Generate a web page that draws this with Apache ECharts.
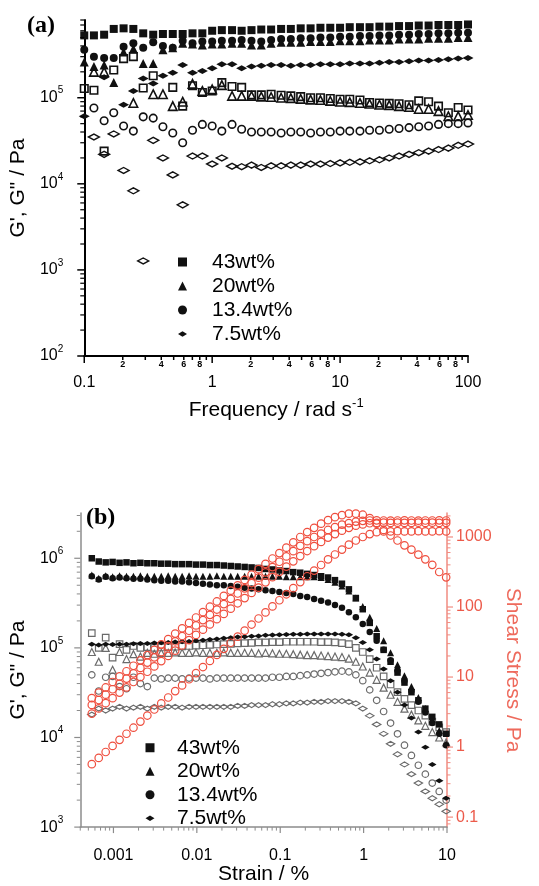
<!DOCTYPE html>
<html><head><meta charset="utf-8">
<script src="https://cdn.jsdelivr.net/npm/echarts@6/dist/echarts.min.js"></script>
<style>html,body{margin:0;padding:0;background:#fff}#c{width:539px;height:886px}</style>
</head><body><div id="c"></div>
<script>
// ---------- Panel (a): frequency sweep ----------
const freqA = [0.1,0.119,0.143,0.170,0.203,0.242,0.289,0.346,0.412,0.492,0.588,0.702,0.838,1.0,1.19,1.43,1.70,2.03,2.42,2.89,3.46,4.12,4.92,5.88,7.02,8.38,10,11.9,14.3,17.0,20.3,24.2,28.9,34.6,41.2,49.2,58.8,70.2,83.8,100];
const a43G = [5.3e5,5.3e5,5.4e5,6.3e5,6.4e5,6.3e5,5.6e5,5.4e5,5.5e5,5.5e5,5.5e5,5.6e5,5.6e5,6.0e5,6.1e5,6.1e5,6.0e5,6.1e5,6.2e5,6.2e5,6.3e5,6.3e5,6.4e5,6.4e5,6.5e5,6.5e5,6.5e5,6.6e5,6.6e5,6.6e5,6.7e5,6.7e5,6.8e5,6.8e5,6.9e5,6.9e5,7.0e5,7.0e5,7.0e5,7.1e5];
const a20G = [2.6e5,2.3e5,2.4e5,1.5e5,3.4e5,3.7e5,2.5e5,2.5e5,3.6e5,3.8e5,4.3e5,4.2e5,4.1e5,4.2e5,4.2e5,4.3e5,4.3e5,4.1e5,4.1e5,4.3e5,4.4e5,4.4e5,4.4e5,4.5e5,4.5e5,4.5e5,4.6e5,4.6e5,4.6e5,4.7e5,4.7e5,4.7e5,4.8e5,4.8e5,4.8e5,4.9e5,4.9e5,4.9e5,5.0e5,5.0e5];
const a13G = [3.6e5,3.0e5,2.9e5,2.9e5,3.9e5,4.3e5,3.8e5,4.4e5,4.0e5,3.8e5,4.6e5,4.3e5,4.5e5,4.5e5,4.6e5,4.6e5,4.7e5,4.6e5,4.5e5,4.7e5,4.8e5,4.8e5,4.9e5,4.9e5,5.0e5,5.0e5,5.1e5,5.1e5,5.2e5,5.2e5,5.3e5,5.3e5,5.4e5,5.4e5,5.5e5,5.5e5,5.6e5,5.6e5,5.7e5,5.7e5];
const a7G  = [6.1e4,null,1.73e5,null,8.3e4,1.2e5,1.67e5,1.46e5,1.8e5,1.95e5,2.4e5,1.95e5,2.05e5,2.2e5,2.45e5,2.45e5,2.2e5,2.3e5,2.35e5,2.4e5,2.4e5,2.35e5,2.4e5,2.4e5,2.45e5,2.45e5,2.45e5,2.5e5,2.5e5,2.5e5,2.55e5,2.6e5,2.6e5,2.65e5,2.7e5,2.7e5,2.75e5,2.8e5,2.85e5,2.9e5];
const a43V = [1.28e5,1.22e5,2.4e4,2.1e5,2.85e5,3.0e5,1.3e5,1.8e5,null,1.32e5,8e4,1.38e5,1.15e5,1.2e5,1.5e5,1.35e5,1.32e5,1.08e5,1.08e5,1.1e5,1.07e5,1.05e5,1.03e5,1.0e5,1.0e5,9.8e4,9.6e4,9.6e4,9.4e4,8.8e4,8.7e4,8.6e4,8.5e4,8.3e4,9.2e4,9.0e4,8.0e4,6.7e4,7.7e4,7.2e4];
const a20V = [null,2.0e5,2.0e5,null,null,8.7e4,null,1.1e5,1.1e5,8e4,9e4,1.45e5,1.2e5,1.25e5,1.4e5,1.05e5,1.05e5,1.05e5,1.03e5,1.02e5,1.0e5,9.9e4,9.7e4,9.5e4,9.4e4,9.2e4,9.0e4,8.9e4,8.7e4,8.5e4,8.3e4,8.2e4,8.0e4,7.8e4,7.4e4,7.4e4,7.0e4,6.1e4,6.1e4,6.3e4];
const a13V = [null,7.6e4,5.4e4,6.7e4,4.7e4,4.1e4,6.0e4,5.8e4,4.6e4,3.9e4,3.0e4,4.2e4,4.9e4,4.7e4,4.1e4,4.9e4,4.3e4,4.0e4,4.0e4,4.0e4,3.9e4,4.0e4,4.0e4,3.9e4,4.0e4,4.0e4,4.1e4,4.1e4,4.1e4,4.2e4,4.2e4,4.3e4,4.4e4,4.5e4,4.6e4,4.7e4,4.9e4,5.0e4,5.0e4,5.1e4];
const a7V  = [null,3.5e4,2.2e4,3.8e4,1.43e4,8.3e3,1.27e3,3.2e4,2.0e4,1.27e4,5.7e3,2.1e4,2.1e4,1.7e4,2.0e4,1.6e4,1.58e4,1.65e4,1.55e4,1.62e4,1.62e4,1.65e4,1.65e4,1.7e4,1.7e4,1.72e4,1.75e4,1.78e4,1.8e4,1.85e4,1.9e4,2.0e4,2.1e4,2.2e4,2.3e4,2.4e4,2.5e4,2.6e4,2.8e4,2.9e4];

// ---------- Panel (b): strain sweep ----------
const strainB = [0.00055,0.000666,0.000807,0.000977,0.001184,0.001434,0.001738,0.002105,0.00255,0.00309,0.003744,0.004535,0.0055,0.00666,0.00807,0.00977,0.01184,0.01434,0.01738,0.02105,0.0255,0.0309,0.03744,0.04535,0.055,0.0666,0.0807,0.0977,0.1184,0.1434,0.1738,0.2105,0.255,0.309,0.3744,0.4535,0.55,0.666,0.807,0.977,1.184,1.434,1.738,2.105,2.55,3.09,3.744,4.535,5.5,6.66,8.07,9.77];
const bG43 = [1.0e6,9.2e5,9.0e5,9.1e5,8.9e5,9.0e5,8.8e5,8.9e5,8.8e5,8.8e5,8.7e5,8.7e5,8.6e5,8.6e5,8.6e5,8.5e5,8.5e5,8.4e5,8.4e5,8.3e5,8.2e5,8.1e5,8.0e5,7.9e5,7.8e5,7.6e5,7.5e5,7.3e5,7.2e5,7.0e5,6.9e5,6.7e5,6.5e5,6.3e5,6.1e5,5.7e5,5.2e5,4.5e5,3.6e5,2.7e5,1.9e5,1.35e5,9.5e4,7.0e4,5.3e4,4.1e4,3.2e4,2.6e4,2.1e4,1.7e4,1.4e4,1.1e4];
const bG20 = [6.5e5,6.0e5,6.4e5,6.2e5,6.4e5,6.3e5,6.3e5,6.4e5,6.3e5,6.3e5,6.3e5,6.4e5,6.3e5,6.3e5,6.4e5,6.3e5,6.3e5,6.3e5,6.4e5,6.3e5,6.3e5,6.3e5,6.3e5,6.3e5,6.3e5,6.3e5,6.3e5,6.3e5,6.2e5,6.2e5,6.2e5,6.2e5,6.2e5,6.1e5,5.8e5,5.4e5,4.9e5,4.3e5,3.6e5,2.9e5,2.2e5,1.65e5,1.2e5,8.8e4,6.5e4,4.9e4,3.7e4,2.8e4,2.1e4,1.6e4,1.2e4,8.5e3];
const bG13 = [6.3e5,5.8e5,6.2e5,6.0e5,6.1e5,6.0e5,5.9e5,5.9e5,5.8e5,5.7e5,5.6e5,5.6e5,5.5e5,5.5e5,5.4e5,5.3e5,5.2e5,5.1e5,5.0e5,5.0e5,4.9e5,4.8e5,4.7e5,4.6e5,4.5e5,4.4e5,4.3e5,4.2e5,4.1e5,4.0e5,3.8e5,3.7e5,3.5e5,3.35e5,3.2e5,3.0e5,2.8e5,2.5e5,2.2e5,1.85e5,1.5e5,1.2e5,9.5e4,7.3e4,5.6e4,4.3e4,3.3e4,2.5e4,1.9e4,1.45e4,1.1e4,8.2e3];
const bG7  = [1.1e5,1.08e5,1.1e5,1.09e5,1.1e5,1.1e5,1.11e5,1.12e5,1.12e5,1.13e5,1.14e5,1.15e5,1.16e5,1.17e5,1.18e5,1.2e5,1.22e5,1.24e5,1.26e5,1.28e5,1.3e5,1.32e5,1.33e5,1.35e5,1.36e5,1.38e5,1.39e5,1.4e5,1.41e5,1.42e5,1.42e5,1.43e5,1.43e5,1.43e5,1.43e5,1.43e5,1.42e5,1.4e5,1.3e5,1.15e5,9.5e4,7.5e4,5.8e4,4.3e4,3.2e4,2.3e4,1.65e4,1.15e4,7.8e3,5.0e3,3.3e3,2.1e3];
const bV43 = [1.46e5,1.0e5,1.3e5,7.8e4,1.1e5,9.5e4,1.05e5,1.0e5,1.02e5,1.0e5,1.01e5,1.02e5,1.03e5,1.04e5,1.05e5,1.06e5,1.07e5,1.08e5,1.09e5,1.1e5,1.11e5,1.12e5,1.13e5,1.14e5,1.15e5,1.15e5,1.16e5,1.16e5,1.17e5,1.17e5,1.17e5,1.17e5,1.17e5,1.16e5,1.16e5,1.15e5,1.13e5,1.1e5,1.0e5,9.0e4,7.5e4,6.0e4,4.8e4,3.9e4,3.2e4,2.7e4,2.3e4,2.0e4,1.75e4,1.5e4,1.3e4,1.15e4];
const bV20 = [9.0e4,7.0e4,1.0e5,5.7e4,9.0e4,7.5e4,8.5e4,8.0e4,8.8e4,8.6e4,8.8e4,8.8e4,8.9e4,8.8e4,8.8e4,8.9e4,8.8e4,8.8e4,8.8e4,8.9e4,8.8e4,8.8e4,8.8e4,8.8e4,8.7e4,8.8e4,8.7e4,8.6e4,8.6e4,8.5e4,8.4e4,8.3e4,8.3e4,8.2e4,8.1e4,8.0e4,7.9e4,7.6e4,7.0e4,6.2e4,5.3e4,4.4e4,3.6e4,3.0e4,2.5e4,2.1e4,1.8e4,1.55e4,1.35e4,1.15e4,1.0e4,8.8e3];
const bV13 = [5.0e4,3.3e4,4.7e4,4.8e4,3.7e4,3.5e4,4.7e4,4.0e4,3.7e4,4.6e4,4.5e4,4.6e4,4.6e4,4.5e4,4.6e4,4.6e4,4.6e4,4.5e4,4.6e4,4.6e4,4.6e4,4.6e4,4.6e4,4.6e4,4.6e4,4.6e4,4.7e4,4.7e4,4.8e4,4.8e4,4.9e4,5.0e4,5.1e4,5.2e4,5.3e4,5.4e4,5.5e4,5.4e4,5.0e4,4.3e4,3.4e4,2.6e4,1.95e4,1.45e4,1.1e4,8.2e3,6.3e3,4.9e3,3.9e3,3.1e3,2.5e3,2.0e3];
const bV7  = [1.8e4,2.1e4,2.0e4,2.1e4,2.2e4,2.1e4,2.15e4,2.2e4,2.1e4,2.2e4,2.15e4,2.2e4,2.2e4,2.15e4,2.2e4,2.2e4,2.2e4,2.2e4,2.2e4,2.2e4,2.2e4,2.25e4,2.25e4,2.3e4,2.3e4,2.3e4,2.35e4,2.35e4,2.4e4,2.4e4,2.45e4,2.45e4,2.5e4,2.5e4,2.55e4,2.55e4,2.55e4,2.5e4,2.4e4,2.1e4,1.75e4,1.4e4,1.1e4,8.5e3,6.5e3,5.0e3,3.9e3,3.1e3,2.5e3,2.1e3,1.8e3,1.5e3];
const stressB1 = [5.0,6.0,7.1,8.5,10.2,12.1,14.5,17.3,20.6,24.5,29.3,34.9,41.7,49.7,59.3,70.8,84.5,101,120,144,171,204,244,290,347,414,493,589,703,838,1000,1175,1350,1550,1740,1920,2050,2150,2150,2080,1860,1550,1260,1050,890,760,660,560,480,400,316,265];
const stressB2 = [4.0,4.7,5.6,6.7,8.0,9.5,11.3,13.5,16.1,19.1,22.8,27.2,32.4,38.5,45.8,54.6,65.0,77.4,92,110,131,156,185,220,262,313,372,443,527,628,748,870,1000,1120,1260,1380,1500,1580,1660,1700,1720,1730,1720,1710,1720,1730,1720,1710,1720,1720,1730,1720];
const stressB3 = [3.0,3.56,4.24,5.0,6.0,7.1,8.5,10.0,11.9,14.2,16.9,20.0,23.8,28.3,33.7,40.0,47.5,56.5,67.1,79.8,94.8,113,134,159,189,225,267,318,378,449,533,630,740,850,980,1100,1230,1350,1450,1510,1570,1590,1600,1590,1600,1590,1590,1600,1590,1600,1590,1590];
const stressB4 = [0.57,0.70,0.85,1.04,1.27,1.55,1.89,2.31,2.82,3.44,4.2,5.1,6.3,7.6,9.3,11.4,13.9,17.0,20.7,25.3,30.9,37.7,46.0,56.2,68.6,83.7,102,125,152,186,227,275,331,398,479,562,661,776,891,1000,1100,1170,1200,1200,1210,1200,1200,1210,1200,1200,1210,1200];

// ---------- Labels / ticks ----------
const legendNames = ['43wt%','20wt%','13.4wt%','7.5wt%'];
const ticksA_x = [0.1,1,10,100];
const ticksA_y = [100,1000,10000,100000];
const ticksB_x = [0.001,0.01,0.1,1,10];
const ticksB_y = [1000,10000,100000,1000000];
const ticksB_r = [0.1,1,10,100,1000];
const minorLabelMantissas = [2,4,6,8];

const FF = "'Liberation Sans', Arial, sans-serif";
const DIA = 'path://M0,5L8,0L16,5L8,10Z';
const BLACK = '#111', GRAY = '#6a6a6a', RED = '#ef4e3e';
const AX_B = '#8c8c8c', RED_AX = '#f08b80', RED_TXT = '#ec5a4a';

function minorTicks(e0, e1, lo, hi) {
  const out = [];
  for (let e = e0; e <= e1; e++) for (let m = 2; m <= 9; m++) {
    const v = +(m * Math.pow(10, e)).toPrecision(3);
    if (v >= lo * 0.999 && v <= hi * 1.001) out.push(v);
  }
  return out;
}
function isPow(v){ const l = Math.log10(v); return Math.abs(l - Math.round(l)) < 1e-6; }
function fmtPow(v){ if (!isPow(v)) return ''; return '{b|10}{s|' + Math.round(Math.log10(v)) + '}'; }
function fmtNum(v){ if (!isPow(v)) return ''; const e = Math.round(Math.log10(v)); return e < 0 ? Math.pow(10, e).toFixed(-e) : String(Math.pow(10, e)); }
const powRich = { b:{fontSize:16, lineHeight:24, fontFamily:FF, color:'#000'}, s:{fontSize:10, lineHeight:10, verticalAlign:'top', fontFamily:FF, color:'#000'} };

function pairs(xs, ys){ return xs.map((x,i)=>[x, ys[i]]).filter(d => d[1] != null); }
function sc(name, xs, ys, symbol, size, filled, color, bw, xi, yi, z) {
  return { type:'scatter', name, xAxisIndex:xi, yAxisIndex:yi, symbol, symbolSize:size, z:z||2, silent:true, clip:false,
    itemStyle: filled ? {color:color, borderWidth:0, opacity:1} : {color:'rgba(255,255,255,0)', borderColor:color, borderWidth:bw, opacity:1},
    data: pairs(xs, ys) };
}
function tickSeries(xi, yi, data, dir, len, color, lw, withLabel) {
  return { type:'custom', xAxisIndex:xi, yAxisIndex:yi, silent:true, z:20, clip:false, data,
    renderItem(params, api) {
      const v = [api.value(0), api.value(1)];
      const p = api.coord(v);
      const ch = [{type:'line', shape:{x1:p[0], y1:p[1], x2:p[0]+dir[0]*len, y2:p[1]+dir[1]*len}, style:{stroke:color, lineWidth:lw}}];
      if (withLabel) {
        const val = dir[1] ? v[0] : v[1];
        const m = Math.round(val / Math.pow(10, Math.floor(Math.log10(val) + 1e-9)));
        if (minorLabelMantissas.indexOf(m) >= 0) {
          ch.push({type:'text', x:p[0], y:p[1]+len+0.5, style:{text:String(m), align:'center', verticalAlign:'top', textAlign:'center', textVerticalAlign:'top', font:'bold 9px ' + FF, fill:'#000'}});
        }
      }
      return {type:'group', children:ch};
    } };
}

const Y_MIN_A = 100, X_MIN_A = 0.1, Y_MIN_B = 1000, X_MIN_B = 0.0004, X_MAX_B = 10;

const series = [
  // panel a: G'' open
  sc("43wt% G''", freqA, a43V, 'rect', 7.5, false, BLACK, 1.6, 0, 0),
  sc("20wt% G''", freqA, a20V, 'triangle', 8.5, false, BLACK, 1.6, 0, 0),
  sc("13.4wt% G''", freqA, a13V, 'circle', 7.5, false, BLACK, 1.6, 0, 0),
  sc("7.5wt% G''", freqA, a7V, DIA, [11,6], false, BLACK, 1.5, 0, 0),
  // panel a: G' filled
  sc('7.5wt%', freqA, a7G, DIA, [11,6], true, BLACK, 0, 0, 0, 3),
  sc('13.4wt%', freqA, a13G, 'circle', 8, true, BLACK, 0, 0, 0, 3),
  sc('20wt%', freqA, a20G, 'triangle', 9, true, BLACK, 0, 0, 0, 3),
  sc('43wt%', freqA, a43G, 'rect', 8, true, BLACK, 0, 0, 0, 3),
  // panel b: G'' open (gray)
  sc("43wt% G'' b", strainB, bV43, 'rect', 6.5, false, GRAY, 1.2, 1, 1),
  sc("20wt% G'' b", strainB, bV20, 'triangle', 7, false, GRAY, 1.2, 1, 1),
  sc("13.4wt% G'' b", strainB, bV13, 'circle', 6.5, false, GRAY, 1.2, 1, 1),
  sc("7.5wt% G'' b", strainB, bV7, DIA, [8.5,5], false, GRAY, 1.2, 1, 1),
  // panel b: G' filled
  sc('7.5wt%', strainB, bG7, DIA, [8.5,5], true, BLACK, 0, 1, 1, 3),
  sc('13.4wt%', strainB, bG13, 'circle', 6.5, true, BLACK, 0, 1, 1, 3),
  sc('20wt%', strainB, bG20, 'triangle', 7, true, BLACK, 0, 1, 1, 3),
  sc('43wt%', strainB, bG43, 'rect', 6.5, true, BLACK, 0, 1, 1, 3),
  // panel b: shear stress (right axis)
  sc('stress 1', strainB, stressB1, 'circle', 7.5, false, RED, 1.2, 1, 2, 4),
  sc('stress 2', strainB, stressB2, 'circle', 7.5, false, RED, 1.2, 1, 2, 4),
  sc('stress 3', strainB, stressB3, 'circle', 7.5, false, RED, 1.2, 1, 2, 4),
  sc('stress 4', strainB, stressB4, 'circle', 7.5, false, RED, 1.2, 1, 2, 4),
  // ticks
  tickSeries(0, 0, ticksA_x.map(v=>[v, Y_MIN_A]), [0,1], 7, '#000', 1.5, false),
  tickSeries(0, 0, minorTicks(-1, 1, 0.1, 100).map(v=>[v, Y_MIN_A]), [0,1], 4, '#000', 1.5, true),
  tickSeries(0, 0, ticksA_y.map(v=>[X_MIN_A, v]), [-1,0], 7, '#000', 1.5, false),
  tickSeries(0, 0, minorTicks(2, 5, 100, 8e5).map(v=>[X_MIN_A, v]), [-1,0], 4, '#000', 1.2, false),
  tickSeries(1, 1, ticksB_x.map(v=>[v, Y_MIN_B]), [0,1], 6, AX_B, 1.2, false),
  tickSeries(1, 1, minorTicks(-4, 0, 0.0004, 10).map(v=>[v, Y_MIN_B]), [0,1], 3.5, AX_B, 1, false),
  tickSeries(1, 1, ticksB_y.map(v=>[X_MIN_B, v]), [-1,0], 6, AX_B, 1.2, false),
  tickSeries(1, 1, minorTicks(3, 6, 1000, 3.2e6).map(v=>[X_MIN_B, v]), [-1,0], 3.5, AX_B, 1, false),
  tickSeries(1, 2, ticksB_r.map(v=>[X_MAX_B, v]), [1,0], 6, RED_AX, 1.2, false),
  tickSeries(1, 2, minorTicks(-2, 3, 0.072, 2200).map(v=>[X_MAX_B, v]), [1,0], 3.5, RED_AX, 1, false)
];

const option = {
  animation: false,
  backgroundColor: '#fff',
  textStyle: { fontFamily: FF },
  grid: [
    { left: 83, top: 20, width: 385, height: 336 },
    { left: 73, top: 513, width: 374, height: 319 }
  ],
  xAxis: [
    { type:'log', gridIndex:0, min:0.1, max:100,
      axisLine:{lineStyle:{color:'#000', width:2}}, axisTick:{show:false}, splitLine:{show:false},
      axisLabel:{margin:19, fontSize:16, color:'#000', fontFamily:FF, formatter:fmtNum},
      name:'Frequency / rad s{s|-1}', nameLocation:'middle', nameGap:41,
      nameTextStyle:{fontSize:21, color:'#000', fontFamily:FF, lineHeight:26, rich:{s:{fontSize:13, lineHeight:13, verticalAlign:'top', fontFamily:FF, color:'#000'}}} },
    { type:'log', gridIndex:1, min:0.0004, max:10,
      axisLine:{lineStyle:{color:AX_B, width:1.5}}, axisTick:{show:false}, splitLine:{show:false},
      axisLabel:{margin:20, fontSize:16, color:'#000', fontFamily:FF, formatter:fmtNum},
      name:'Strain / %', nameLocation:'middle', nameGap:35,
      nameTextStyle:{fontSize:21, color:'#000', fontFamily:FF} }
  ],
  yAxis: [
    { type:'log', gridIndex:0, min:100, max:8e5,
      axisLine:{lineStyle:{color:'#000', width:2}}, axisTick:{show:false}, splitLine:{show:false},
      axisLabel:{margin:21, formatter:fmtPow, rich:powRich},
      name:'G\', G" / Pa', nameLocation:'middle', nameGap:50,
      nameTextStyle:{fontSize:21, color:'#000', fontFamily:FF} },
    { type:'log', gridIndex:1, min:1000, max:3.2e6, position:'left',
      axisLine:{lineStyle:{color:AX_B, width:1.5}}, axisTick:{show:false}, splitLine:{show:false},
      axisLabel:{margin:17, formatter:fmtPow, rich:powRich},
      name:'G\', G" / Pa', nameLocation:'middle', nameGap:40,
      nameTextStyle:{fontSize:21, color:'#000', fontFamily:FF} },
    { type:'log', gridIndex:1, min:0.072, max:2200, position:'right',
      axisLine:{show:true, lineStyle:{color:RED_AX, width:1.5}}, axisTick:{show:false}, splitLine:{show:false},
      axisLabel:{margin:9, fontSize:16, color:RED_TXT, fontFamily:FF, formatter:fmtNum},
      name:'Shear Stress / Pa', nameLocation:'middle', nameGap:55, nameRotate:-90,
      nameTextStyle:{fontSize:21, color:'#ee6a5c', fontFamily:FF} }
  ],
  legend: [
    { data: [{name:legendNames[0], icon:'rect'},{name:legendNames[1], icon:'triangle'},{name:legendNames[2], icon:'circle'},{name:legendNames[3], icon:DIA}],
      orient:'vertical', left:173, top:245, itemWidth:9, itemHeight:9, itemGap:0, selectedMode:false,
      textStyle:{fontSize:21, fontFamily:FF, color:'#000', lineHeight:24, padding:[0,0,0,20]} },
    { data: [{name:legendNames[0], icon:'rect'},{name:legendNames[1], icon:'triangle'},{name:legendNames[2], icon:'circle'},{name:legendNames[3], icon:DIA}],
      orient:'vertical', left:140.5, top:731, itemWidth:9, itemHeight:9, itemGap:0, selectedMode:false,
      textStyle:{fontSize:21, fontFamily:FF, color:'#000', lineHeight:23.5, padding:[0,0,0,17.5]} }
  ],
  graphic: [
    { type:'text', left:27, top:14, style:{text:'(a)', font:'bold 24px "Liberation Serif", "Times New Roman", serif', fill:'#000'} },
    { type:'text', left:86, top:506, style:{text:'(b)', font:'bold 24px "Liberation Serif", "Times New Roman", serif', fill:'#000'} }
  ],
  series
};
const chart = echarts.init(document.getElementById('c'), null, {renderer:'canvas', width:539, height:886});
chart.setOption(option);
</script></body></html>
